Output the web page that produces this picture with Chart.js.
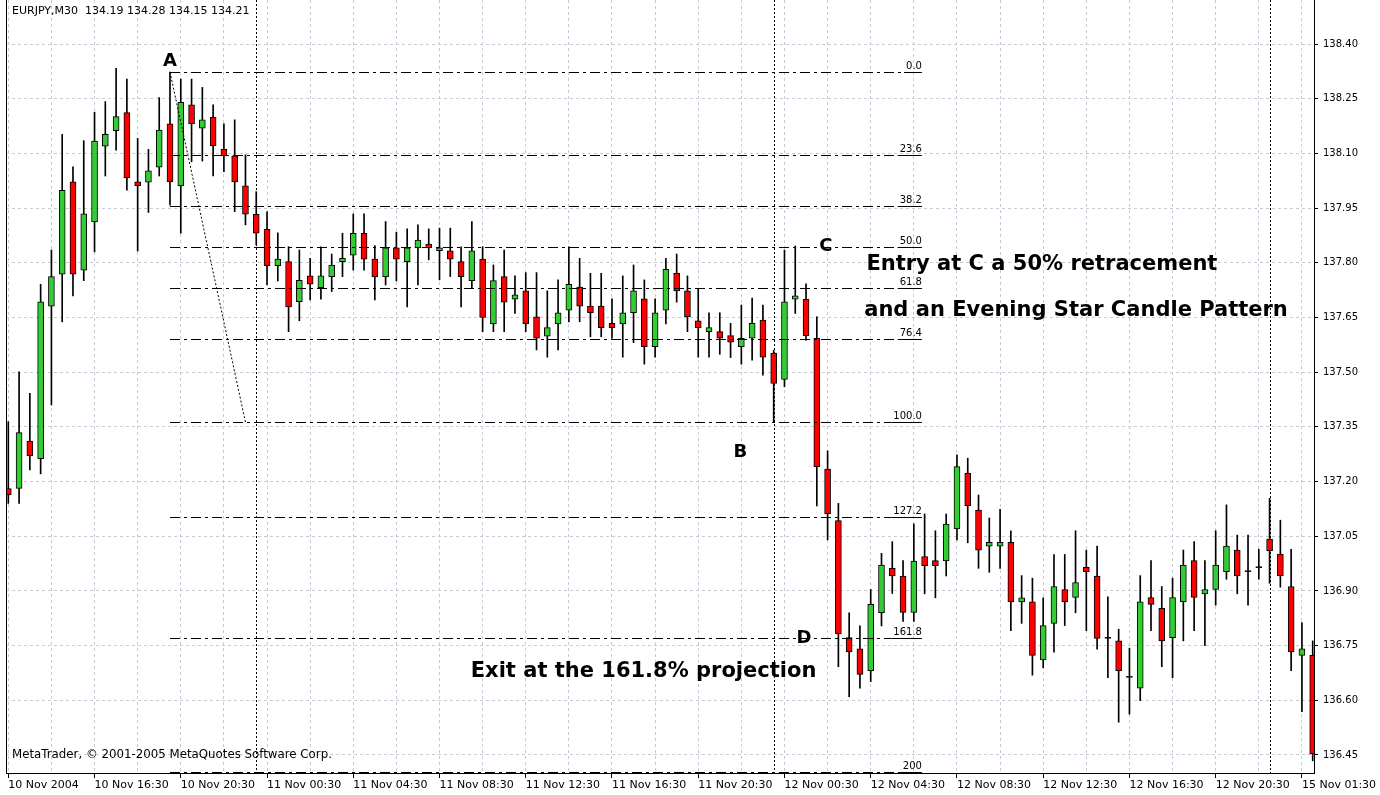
<!DOCTYPE html>
<html>
<head>
<meta charset="utf-8">
<script src="https://cdn.jsdelivr.net/npm/chart.js@4.4.0/dist/chart.umd.min.js"></script>
<style>
  html, body { margin: 0; padding: 0; background: #fff; }
</style>
</head>
<body>
<canvas id="myChart" width="1380" height="795"></canvas>
<script>
const ctx = document.getElementById('myChart');

// EURJPY M30, one entry per bar (bar index = position)
const opens = [
  137.181, 137.181, 137.311, 137.263, 137.681, 137.769, 138.022, 137.780, 137.912, 138.120,
  138.162, 138.212, 138.022, 138.021, 138.062, 138.181, 138.011, 138.233, 138.169, 138.199,
  138.111, 138.093, 138.011, 137.933, 137.892, 137.792, 137.803, 137.693, 137.764, 137.732,
  137.762, 137.803, 137.821, 137.881, 137.810, 137.762, 137.841, 137.803, 137.841, 137.851,
  137.833, 137.833, 137.803, 137.751, 137.810, 137.632, 137.762, 137.700, 137.723, 137.652,
  137.599, 137.632, 137.670, 137.733, 137.681, 137.681, 137.634, 137.632, 137.663, 137.701,
  137.570, 137.670, 137.771, 137.723, 137.641, 137.611, 137.611, 137.600, 137.570, 137.593,
  137.643, 137.552, 137.480, 137.700, 137.700, 137.593, 137.234, 137.093, 136.772, 136.741,
  136.681, 136.840, 136.962, 136.941, 136.841, 136.994, 136.983, 136.982, 137.070, 137.223,
  137.122, 137.023, 137.023, 137.033, 136.870, 136.870, 136.711, 136.811, 136.904, 136.882,
  136.965, 136.941, 136.770, 136.763, 136.663, 136.633, 136.882, 136.852, 136.772, 136.870,
  136.983, 136.892, 136.904, 136.953, 137.012, 136.953, 136.964, 137.042, 137.001, 136.912,
  136.723, 136.723
];
const highs = [
  137.364, 137.501, 137.442, 137.741, 137.835, 138.152, 138.063, 138.135, 138.213, 138.242,
  138.333, 138.304, 138.141, 138.111, 138.253, 138.323, 138.304, 138.304, 138.281, 138.233,
  138.181, 138.192, 138.096, 137.995, 137.940, 137.882, 137.844, 137.835, 137.812, 137.844,
  137.824, 137.881, 137.934, 137.934, 137.847, 137.913, 137.884, 137.893, 137.904, 137.893,
  137.895, 137.895, 137.844, 137.913, 137.844, 137.794, 137.835, 137.764, 137.773, 137.773,
  137.723, 137.753, 137.844, 137.812, 137.771, 137.771, 137.701, 137.764, 137.794, 137.753,
  137.701, 137.812, 137.824, 137.764, 137.730, 137.663, 137.663, 137.634, 137.684, 137.703,
  137.684, 137.560, 137.835, 137.846, 137.742, 137.652, 137.284, 137.140, 136.840, 136.804,
  136.904, 137.003, 137.035, 136.983, 137.084, 137.111, 137.065, 137.111, 137.273, 137.264,
  137.163, 137.100, 137.124, 137.065, 136.942, 136.935, 136.881, 137.000, 137.000, 137.065,
  137.012, 137.023, 136.884, 136.795, 136.743, 136.942, 136.983, 136.912, 136.935, 137.012,
  137.035, 136.983, 137.065, 137.136, 137.053, 137.053, 137.014, 137.154, 137.094, 137.014,
  136.813, 136.763
];
const lows = [
  137.140, 137.140, 137.232, 137.221, 137.410, 137.638, 137.709, 137.751, 137.830, 138.038,
  138.109, 137.999, 137.832, 137.938, 138.038, 137.958, 137.881, 138.077, 138.079, 138.038,
  138.050, 137.940, 137.904, 137.849, 137.739, 137.750, 137.611, 137.641, 137.698, 137.700,
  137.721, 137.762, 137.780, 137.780, 137.698, 137.739, 137.750, 137.679, 137.739, 137.808,
  137.753, 137.762, 137.679, 137.730, 137.611, 137.611, 137.611, 137.661, 137.611, 137.561,
  137.541, 137.561, 137.638, 137.638, 137.597, 137.597, 137.593, 137.541, 137.581, 137.522,
  137.541, 137.632, 137.692, 137.611, 137.541, 137.541, 137.549, 137.540, 137.522, 137.533,
  137.492, 137.364, 137.460, 137.661, 137.588, 137.133, 137.040, 136.692, 136.610, 136.633,
  136.651, 136.804, 136.893, 136.816, 136.816, 136.892, 136.881, 136.941, 137.040, 137.032,
  136.962, 136.951, 136.962, 136.791, 136.811, 136.669, 136.689, 136.732, 136.805, 136.840,
  136.791, 136.740, 136.662, 136.540, 136.562, 136.599, 136.791, 136.692, 136.662, 136.763,
  136.791, 136.750, 136.861, 136.932, 136.892, 136.861, 136.932, 136.921, 136.910, 136.681,
  136.569, 136.434
];
const closes = [
  137.163, 137.334, 137.270, 137.693, 137.762, 137.999, 137.769, 137.934, 138.134, 138.152,
  138.201, 138.033, 138.011, 138.052, 138.164, 138.022, 138.240, 138.181, 138.192, 138.121,
  138.093, 138.022, 137.933, 137.881, 137.792, 137.810, 137.679, 137.752, 137.741, 137.764,
  137.794, 137.812, 137.881, 137.810, 137.762, 137.841, 137.810, 137.841, 137.862, 137.841,
  137.841, 137.810, 137.762, 137.833, 137.650, 137.751, 137.692, 137.712, 137.632, 137.593,
  137.622, 137.663, 137.741, 137.681, 137.663, 137.622, 137.622, 137.663, 137.723, 137.570,
  137.663, 137.782, 137.723, 137.652, 137.622, 137.622, 137.593, 137.582, 137.593, 137.634,
  137.541, 137.469, 137.693, 137.709, 137.600, 137.241, 137.111, 136.782, 136.733, 136.671,
  136.863, 136.971, 136.941, 136.841, 136.982, 136.969, 136.969, 137.083, 137.241, 137.134,
  137.012, 137.033, 137.033, 136.870, 136.881, 136.723, 136.805, 136.912, 136.870, 136.923,
  136.953, 136.770, 136.770, 136.681, 136.663, 136.870, 136.863, 136.763, 136.882, 136.971,
  136.882, 136.904, 136.971, 137.023, 136.941, 136.953, 136.964, 137.010, 136.941, 136.733,
  136.741, 136.453
];

// time labels every 8 bars, grid every 4 bars
const timeLabels = [
  '10 Nov 2004', '10 Nov 16:30', '10 Nov 20:30', '11 Nov 00:30', '11 Nov 04:30',
  '11 Nov 08:30', '11 Nov 12:30', '11 Nov 16:30', '11 Nov 20:30', '12 Nov 00:30',
  '12 Nov 04:30', '12 Nov 08:30', '12 Nov 12:30', '12 Nov 16:30', '12 Nov 20:30',
  '15 Nov 01:30'
];
const priceTicks = [136.45, 136.60, 136.75, 136.90, 137.05, 137.20, 137.35, 137.50,
  137.65, 137.80, 137.95, 138.10, 138.25, 138.40];

// fibonacci from A (bar 15 high) to B
const fibLevels = [0, 23.6, 38.2, 50, 61.8, 76.4, 100, 127.2, 161.8, 200];
const fibNames = ['0.0', '23.6', '38.2', '50.0', '61.8', '76.4', '100.0', '127.2', '161.8', '200'];
const fibHigh = 138.323;
const fibLow = 137.363;
const fibStartBar = 15;
const fibAnchorBar = 22;
const fibEndBar = 84.75;

const vLineBars = [23, 71, 117];

const notes = [
  { text: 'A', bar: 15, price: 138.353, size: 18, align: 'center' },
  { text: 'B', bar: 67.9, price: 137.281, size: 18, align: 'center' },
  { text: 'C', bar: 75.85, price: 137.846, size: 18, align: 'center' },
  { text: 'D', bar: 73.8, price: 136.771, size: 18, align: 'center' },
  { text: 'Entry at C a 50% retracement', bar: 79.6, price: 137.794, size: 21, align: 'left' },
  { text: 'and an Evening Star Candle Pattern', bar: 79.4, price: 137.668, size: 21, align: 'left' },
  { text: 'Exit at the 161.8% projection', bar: 42.9, price: 136.678, size: 21, align: 'left' }
];

const header = 'EURJPY,M30  134.19 134.28 134.15 134.21';
const footer = 'MetaTrader, \u00A9 2001-2005 MetaQuotes Software Corp.';

const wickData = highs.map((h, i) => ({ x: i, y: [lows[i], h] }));
const bodyData = opens.map((o, i) => ({ x: i, y: [o, closes[i]] }));

function bodyColor(c) {
  const i = c.dataIndex;
  if (opens[i] === closes[i]) return '#000';
  return closes[i] > opens[i] ? '#32cd32' : '#ff0000';
}

function line(g, x1, y1, x2, y2) {
  g.beginPath();
  g.moveTo(x1, y1);
  g.lineTo(x2, y2);
  g.stroke();
}

const overlay = {
  id: 'overlay',
  beforeDatasetsDraw(chart) {
    const g = chart.ctx;
    const a = chart.chartArea;
    const x = chart.scales.x;
    g.save();
    g.strokeStyle = '#000';
    g.lineWidth = 1;
    g.setLineDash([2, 2]);
    vLineBars.forEach(b => {
      const px = Math.round(x.getPixelForValue(b)) + 0.5;
      line(g, px, a.top, px, a.bottom);
    });
    g.restore();
  },
  afterDatasetsDraw(chart) {
    const g = chart.ctx;
    const a = chart.chartArea;
    const x = chart.scales.x;
    const y = chart.scales.y;
    g.save();
    g.strokeStyle = '#000';
    g.fillStyle = '#000';
    g.lineWidth = 1;

    // fib levels
    const x1 = x.getPixelForValue(fibStartBar);
    const x2 = x.getPixelForValue(fibEndBar);
    g.font = '10px "DejaVu Sans"';
    g.textAlign = 'right';
    g.textBaseline = 'bottom';
    fibLevels.forEach((lv, i) => {
      const p = fibHigh - lv / 100 * (fibHigh - fibLow);
      const py = Math.round(y.getPixelForValue(p)) + 0.5;
      const w = g.measureText(fibNames[i]).width;
      g.setLineDash([10, 4, 3, 4]);
      line(g, x1, py, x2 - w - 2, py);
      g.setLineDash([]);
      line(g, x2 - w - 2, py, x2, py);
      g.fillText(fibNames[i], x2, py - 1);
    });

    // trend line of the fib
    g.setLineDash([2, 2]);
    line(g, x1, y.getPixelForValue(fibHigh), x.getPixelForValue(fibAnchorBar), y.getPixelForValue(fibLow));
    g.setLineDash([]);

    // notes
    g.textBaseline = 'middle';
    notes.forEach(n => {
      g.font = 'bold ' + n.size + 'px "DejaVu Sans"';
      g.textAlign = n.align;
      g.fillText(n.text, x.getPixelForValue(n.bar), y.getPixelForValue(n.price));
    });

    // header / footer
    g.textAlign = 'left';
    g.font = '11px "DejaVu Sans"';
    g.fillText(header, 12, 11);
    g.font = '11.8px "DejaVu Sans"';
    g.fillText(footer, 12, 755);

    // left border
    line(g, a.left + 0.5, a.top, a.left + 0.5, a.bottom);
    g.restore();
  }
};

new Chart(ctx, {
  type: 'bar',
  data: {
    datasets: [
      {
        data: wickData,
        backgroundColor: '#000',
        borderWidth: 0,
        barThickness: 1,
        grouped: false,
        order: 2
      },
      {
        data: bodyData,
        backgroundColor: bodyColor,
        borderColor: '#000',
        borderWidth: 1,
        borderSkipped: false,
        barThickness: 6,
        minBarLength: 1,
        grouped: false,
        order: 1
      }
    ]
  },
  options: {
    responsive: false,
    animation: false,
    devicePixelRatio: 1,
    layout: { padding: { left: 6, top: 0, right: 0, bottom: 0 } },
    plugins: {
      legend: { display: false },
      tooltip: { enabled: false }
    },
    scales: {
      x: {
        type: 'linear',
        min: -0.213,
        max: 121.12,
        offset: false,
        afterBuildTicks: s => { s.ticks = timeLabels.flatMap((t, i) => [{ value: i * 8 }, { value: i * 8 + 4 }]).filter(t => t.value <= 121); },
        afterFit: s => { s.height = 22; s.paddingLeft = 0; s.paddingRight = 0; },
        grid: {
          color: '#c6ccd6',
          offset: false,
          tickLength: 5,
          tickColor: c => (c.tick && c.tick.value % 8 === 0) ? '#000' : 'rgba(0,0,0,0)'
        },
        border: { display: true, color: '#000', width: 1, dash: [3, 3] },
        ticks: {
          autoSkip: false,
          maxRotation: 0,
          minRotation: 0,
          align: 'start',
          padding: 1,
          color: '#000',
          font: { family: 'DejaVu Sans', size: 11 },
          callback: v => (v % 8 === 0) ? timeLabels[v / 8] : ''
        }
      },
      y: {
        type: 'linear',
        position: 'right',
        min: 136.4006,
        max: 138.5207,
        afterBuildTicks: s => { s.ticks = priceTicks.map(v => ({ value: v })); },
        afterFit: s => { s.width = 66; s.paddingTop = 0; s.paddingBottom = 0; },
        grid: {
          color: '#c6ccd6',
          tickLength: 4,
          tickColor: '#000'
        },
        border: { display: true, color: '#000', width: 1, dash: [3, 3] },
        ticks: {
          padding: 5,
          color: '#000',
          font: { family: 'DejaVu Sans', size: 10 },
          callback: v => v.toFixed(2)
        }
      }
    }
  },
  plugins: [overlay]
});
</script>
</body>
</html>
